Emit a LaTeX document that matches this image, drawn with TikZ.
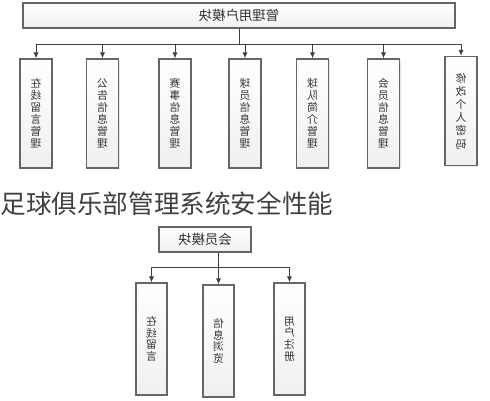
\documentclass[tikz,border=0pt]{standalone}
\usepackage{fontspec}
\usepackage{graphicx}
\newfontfamily\cjk{Noto Sans CJK SC}
\usetikzlibrary{arrows.meta,shadows}
\newcommand\vcol[2][6pt]{\reflectbox{\vbox{\baselineskip=#1\lineskiplimit=-\maxdimen\lineskip=0pt
  \halign{\hfil##\hfil\cr#2\crcr}}}}
\newcommand\flip[1]{\reflectbox{#1}}
\begin{document}
\begin{tikzpicture}[x=0.5pt,y=-0.5pt,
    modbox/.style={draw=gray!80!black,line width=0.6pt,top color=white,bottom color=gray!12,
      inner sep=0pt,text=black!80,font=\cjk\fontsize{6.7}{7}\selectfont,
      drop shadow={shadow xshift=0.6pt,shadow yshift=-0.6pt,fill=gray!35}},
    subbox/.style={modbox,minimum width=16pt,minimum height=54.5pt,font=\cjk\fontsize{5.4}{7}\selectfont},
    link/.style={draw=black!75,line width=0.5pt},
    arr/.style={link,-{Latex[length=3pt,width=2.6pt]}}]
    \useasboundingbox (0,0) rectangle (490,400);
    % upper chart
    \node[modbox,minimum width=216pt,minimum height=12.5pt] (mgr) at (239,15.5) {\flip{管理用户模块}};
    \node[subbox] (m1) at (36,113.5) {\vcol{在\cr 线\cr 留\cr 言\cr 管\cr 理}};
    \node[subbox] (m2) at (102.5,113.5) {\vcol{公\cr 告\cr 信\cr 息\cr 管\cr 理}};
    \node[subbox] (m3) at (175,113.5) {\vcol{赛\cr 事\cr 信\cr 息\cr 管\cr 理}};
    \node[subbox] (m4) at (245,113.5) {\vcol{球\cr 员\cr 信\cr 息\cr 管\cr 理}};
    \node[subbox] (m5) at (312.5,113.5) {\vcol{球\cr 队\cr 简\cr 介\cr 管\cr 理}};
    \node[subbox] (m6) at (383.5,113.5) {\vcol{会\cr 员\cr 信\cr 息\cr 管\cr 理}};
    \node[subbox] (m7) at (461,111) {\vcol[6.6pt]{修\cr 改\cr 个\cr 人\cr 密\cr 码}};
    \coordinate (bus) at (239,45);
    \draw[link] (mgr.south) -- (bus);
    \draw[arr] (bus) -| (m1.north);
    \draw[arr] (bus) -| (m2.north);
    \draw[arr] (bus) -| (m3.north);
    \draw[arr] (bus) -| (m4.north);
    \draw[arr] (bus) -| (m5.north);
    \draw[arr] (bus) -| (m6.north);
    \draw[arr] (bus) -| (m7.north);
    % caption
    \node[anchor=west,inner sep=0pt,text=black!75,font=\cjk\fontsize{12.8}{14}\selectfont] (title) at (0,204) {足球俱乐部管理系统安全性能};
    % lower chart
    \node[modbox,minimum width=46pt,minimum height=12.5pt] (mem) at (205,239.5) {\flip{会员模块}};
    \node[subbox,minimum width=15.5pt,minimum height=56pt] (u1) at (151.5,339) {\vcol[5.8pt]{在\cr 线\cr 留\cr 言}};
    \node[subbox,minimum width=15.5pt,minimum height=56pt] (u2) at (218.5,341) {\vcol[5.8pt]{信\cr 息\cr 浏\cr 览}};
    \node[subbox,minimum width=15.5pt,minimum height=56pt] (u3) at (289.5,339) {\vcol[5.8pt]{用\cr 户\cr 注\cr 册}};
    \coordinate (ubus) at (218.5,267);
    \draw[link] (mem.south -| ubus) -- (ubus);
    \draw[arr] (ubus) -| (u1.north);
    \draw[arr] (ubus) -- (u2.north);
    \draw[arr] (ubus) -| (u3.north);
\end{tikzpicture}
\end{document}
